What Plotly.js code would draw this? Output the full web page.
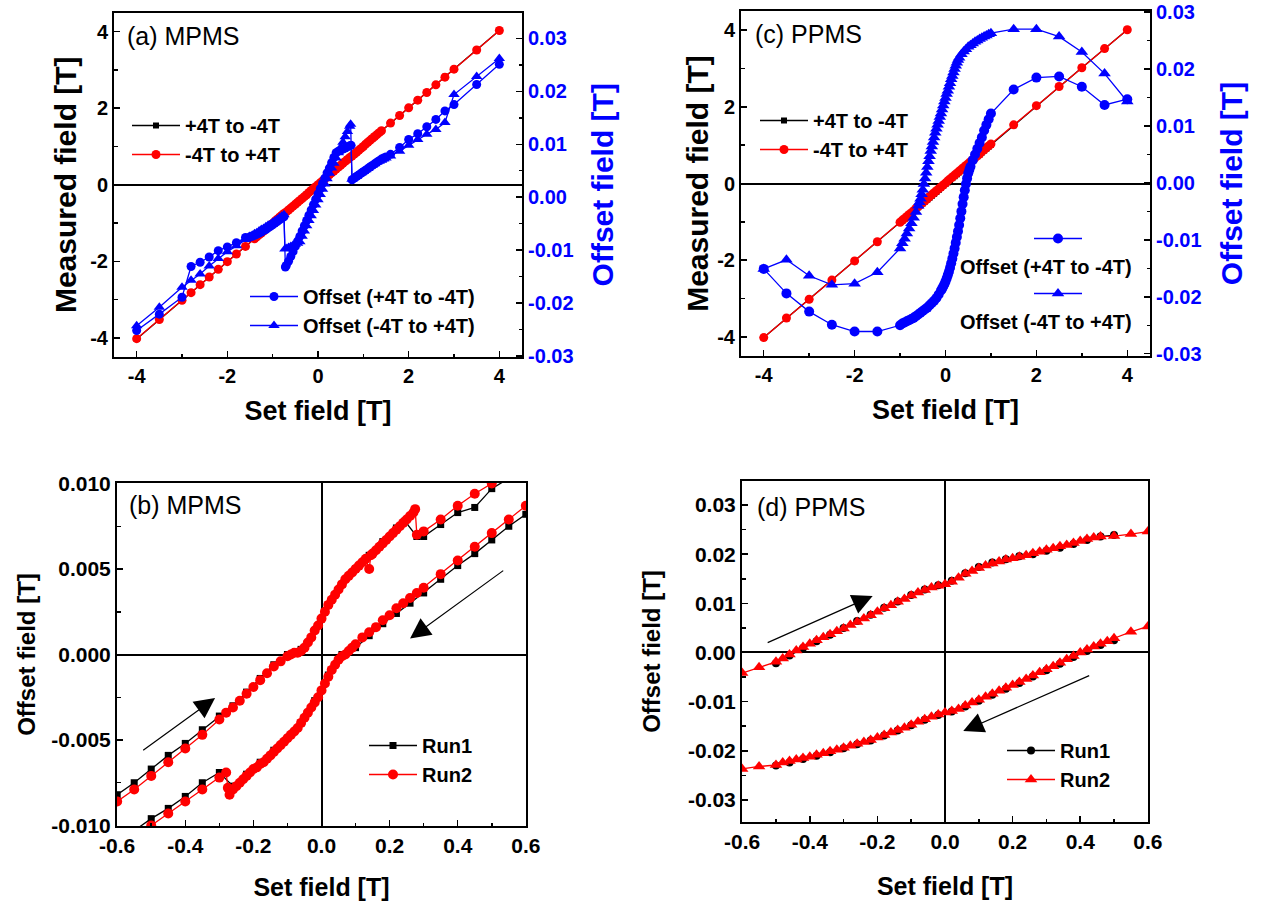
<!DOCTYPE html>
<html><head><meta charset="utf-8">
<script src="https://cdn.plot.ly/plotly-3.0.1.min.js"></script>
<style>html,body{margin:0;padding:0;background:#fff}#chart{width:1263px;height:906px}</style>
</head><body><div id="chart"></div>
<script>
// ---------- Tick labels ----------
var tickFieldVals = [-4,-2,0,2,4];
var tickFieldText = ['-4','-2','0','2','4'];
var tickOffVals = [-0.03,-0.02,-0.01,0,0.01,0.02,0.03];
var tickOffText = ['-0.03','-0.02','-0.01','0.00','0.01','0.02','0.03'];
var tickSmallXVals = [-0.6,-0.4,-0.2,0,0.2,0.4,0.6];
var tickSmallXText = ['-0.6','-0.4','-0.2','0.0','0.2','0.4','0.6'];
var tickBYVals = [-0.01,-0.005,0,0.005,0.01];
var tickBYText = ['-0.010','-0.005','0.000','0.005','0.010'];

// ---------- Panel (a) MPMS ----------
var xA_meas = [-4,-3.5,-3,-2.8,-2.6,-2.4,-2.2,-2,-1.8,-1.6,
 -1.4,-1.35,-1.3,-1.25,-1.2,-1.15,-1.1,-1.05,-1,-0.95,
 -0.9,-0.85,-0.8,-0.75,-0.7,-0.65,-0.6,-0.55,-0.5,-0.45,
 -0.4,-0.35,-0.3,-0.25,-0.2,-0.15,-0.1,-0.05,0,0.05,
 0.1,0.15,0.2,0.25,0.3,0.35,0.4,0.45,0.5,0.55,
 0.6,0.65,0.7,0.75,0.8,0.85,0.9,0.95,1,1.05,
 1.1,1.15,1.2,1.25,1.3,1.35,1.4,
 1.6,1.8,2,2.2,2.4,2.6,2.8,3,3.5,4];
var measA_down = [-4.03,-3.52,-3.02,-2.81,-2.61,-2.41,-2.21,-2.01,-1.81,-1.61,
 -1.41,-1.36,-1.31,-1.26,-1.21,-1.16,-1.11,-1.06,-1.01,-0.95,
 -0.90,-0.85,-0.80,-0.75,-0.71,-0.66,-0.61,-0.56,-0.51,-0.46,
 -0.41,-0.36,-0.31,-0.25,-0.20,-0.15,-0.10,-0.05,0.00,0.05,
 0.10,0.15,0.20,0.26,0.31,0.36,0.41,0.46,0.51,0.56,
 0.61,0.66,0.71,0.75,0.80,0.85,0.90,0.95,1.00,1.06,
 1.11,1.16,1.21,1.26,1.31,1.36,1.41,
 1.61,1.81,2.01,2.21,2.41,2.61,2.82,3.02,3.52,4.03];
var measA_up = [-4.02,-3.52,-3.02,-2.82,-2.61,-2.41,-2.21,-2.01,-1.81,-1.61,
 -1.41,-1.36,-1.31,-1.26,-1.21,-1.16,-1.11,-1.06,-1.01,-0.95,
 -0.90,-0.85,-0.80,-0.75,-0.71,-0.66,-0.61,-0.56,-0.51,-0.46,
 -0.41,-0.36,-0.31,-0.26,-0.20,-0.15,-0.10,-0.05,0.00,0.05,
 0.10,0.15,0.21,0.26,0.31,0.36,0.41,0.46,0.51,0.56,
 0.61,0.66,0.71,0.75,0.80,0.85,0.90,0.95,1.00,1.06,
 1.11,1.16,1.21,1.26,1.31,1.36,1.41,
 1.61,1.81,2.01,2.21,2.41,2.61,2.81,3.02,3.52,4.03];
var xA_offDown = [4,3.5,3,2.8,2.6,2.4,2.2,2,1.8,1.6,
 1.5,1.45,1.4,1.35,1.3,1.25,1.2,1.15,1.1,1.05,
 1,0.95,0.9,0.85,0.8,0.75,
 0.73,0.7,0.65,0.6,0.55,0.5,0.45,0.4,0.35,0.3,
 0.25,0.2,0.15,0.1,0.05,0,-0.05,-0.1,-0.15,-0.2,
 -0.25,-0.3,-0.35,-0.4,-0.45,-0.5,-0.55,-0.6,-0.65,-0.7,-0.72,
 -0.75,-0.8,-0.85,-0.9,-0.95,-1,-1.05,-1.1,-1.15,-1.2,
 -1.25,-1.3,-1.35,-1.4,-1.45,-1.5,-1.6,-1.8,-2,-2.2,
 -2.4,-2.6,-2.8,-3,-3.5,-4];
var offA_down = [0.0251,0.0213,0.0175,0.0163,0.0147,0.0133,0.0120,0.0109,0.0094,0.0081,
 0.0076,0.0074,0.0072,0.0069,0.0066,0.0063,0.0060,0.0057,0.0054,0.0051,
 0.0048,0.0045,0.0042,0.0039,0.0036,0.0033,
 0.0098,0.0097,0.0095,0.0093,0.0091,0.0089,0.0087,0.0084,0.0075,0.0065,
 0.0055,0.0046,0.0036,0.0026,0.0016,0.0006,-0.0004,-0.0014,-0.0024,-0.0034,
 -0.0044,-0.0054,-0.0064,-0.0074,-0.0083,-0.0093,-0.0103,-0.0112,-0.0121,-0.0129,-0.0132,
 -0.0037,-0.0040,-0.0043,-0.0046,-0.0049,-0.0052,-0.0055,-0.0058,-0.0061,-0.0063,
 -0.0066,-0.0068,-0.0070,-0.0072,-0.0074,-0.0075,-0.0076,-0.0086,-0.0094,-0.0101,
 -0.0113,-0.0123,-0.0131,-0.0189,-0.0221,-0.0252];
var xA_offUp = [-4,-3.5,-3,-2.8,-2.6,-2.4,-2.2,-2,-1.8,-1.6,
 -1.5,-1.45,-1.4,-1.35,-1.3,-1.25,-1.2,-1.15,-1.1,-1.05,
 -1,-0.95,-0.9,-0.85,-0.8,-0.75,
 -0.73,-0.7,-0.65,-0.6,-0.55,-0.5,-0.45,-0.4,-0.35,-0.3,
 -0.25,-0.2,-0.15,-0.1,-0.05,0,0.05,0.1,0.15,0.2,
 0.25,0.3,0.35,0.4,0.45,0.5,0.55,0.6,0.65,0.7,0.72,
 0.75,0.8,0.85,0.9,0.95,1,1.05,1.1,1.15,1.2,
 1.25,1.3,1.35,1.4,1.45,1.5,1.6,1.8,2,2.2,
 2.4,2.6,2.8,3,3.5,4];
var offA_up = [-0.0243,-0.0208,-0.0170,-0.0157,-0.0145,-0.0130,-0.0116,-0.0103,-0.0092,-0.0080,
 -0.0074,-0.0072,-0.0069,-0.0067,-0.0064,-0.0061,-0.0059,-0.0056,-0.0053,-0.0051,
 -0.0048,-0.0045,-0.0042,-0.0039,-0.0036,-0.0033,
 -0.0098,-0.0097,-0.0095,-0.0093,-0.0091,-0.0089,-0.0087,-0.0084,-0.0074,-0.0064,
 -0.0054,-0.0044,-0.0035,-0.0025,-0.0015,-0.0005,0.0005,0.0015,0.0025,0.0035,
 0.0045,0.0055,0.0064,0.0074,0.0084,0.0094,0.0104,0.0114,0.0124,0.0134,0.0138,
 0.0034,0.0037,0.0040,0.0043,0.0046,0.0049,0.0052,0.0055,0.0058,0.0061,
 0.0063,0.0066,0.0068,0.0070,0.0072,0.0074,0.0078,0.0087,0.0098,0.0109,
 0.0119,0.0128,0.0141,0.0194,0.0228,0.0262];

// ---------- Panel (c) PPMS ----------
var xC_meas = [-4,-3.5,-3,-2.5,-2,-1.5,
 -1,-0.95,-0.9,-0.85,-0.8,-0.75,-0.7,-0.65,-0.6,-0.55,
 -0.5,-0.45,-0.4,-0.35,-0.3,-0.25,-0.2,-0.15,-0.1,-0.05,
 0,0.05,0.1,0.15,0.2,0.25,0.3,0.35,0.4,0.45,
 0.5,0.55,0.6,0.65,0.7,0.75,0.8,0.85,0.9,0.95,
 1,1.5,2,2.5,3,3.5,4];
var measC_down = [-4.02,-3.52,-3.02,-2.52,-2.03,-1.53,
 -1.02,-0.97,-0.92,-0.87,-0.82,-0.77,-0.72,-0.67,-0.62,-0.57,
 -0.52,-0.47,-0.42,-0.37,-0.32,-0.27,-0.22,-0.17,-0.11,-0.06,
 -0.01,0.03,0.09,0.14,0.19,0.24,0.29,0.35,0.40,0.45,
 0.50,0.55,0.60,0.66,0.71,0.76,0.81,0.86,0.91,0.96,
 1.01,1.52,2.02,2.52,3.02,3.51,4.01];
var measC_up = [-4.02,-3.51,-3.02,-2.52,-2.02,-1.52,
 -1.01,-0.96,-0.91,-0.86,-0.81,-0.76,-0.71,-0.65,-0.60,-0.55,
 -0.50,-0.45,-0.40,-0.34,-0.29,-0.24,-0.19,-0.14,-0.09,-0.04,
 0.01,0.07,0.12,0.17,0.22,0.27,0.32,0.37,0.42,0.47,
 0.52,0.57,0.62,0.67,0.72,0.77,0.83,0.88,0.93,0.98,
 1.03,1.53,2.03,2.53,3.02,3.52,4.01];
var xC_offDown = [4,3.5,3,2.5,2,1.5,
 1,0.95,0.9,0.85,0.8,0.75,0.7,0.65,0.6,
 0.55,0.525,0.5,0.475,0.45,0.425,0.4,0.375,0.35,0.325,
 0.3,0.275,0.25,0.225,0.2,0.175,0.15,0.125,0.1,0.075,
 0.05,0.025,0,-0.025,-0.05,-0.075,-0.1,
 -0.15,-0.2,-0.25,-0.3,-0.35,-0.4,-0.45,-0.5,-0.55,-0.6,-0.65,-0.7,-0.75,-0.8,-0.85,-0.9,-0.95,-1,
 -1.5,-2,-2.5,-3,-3.5,-4];
var offC_down = [0.0147,0.0137,0.0169,0.0187,0.0185,0.0164,
 0.0122,0.0112,0.0102,0.0092,0.0080,0.0070,0.0060,0.0050,0.0040,
 0.0029,0.0023,0.0017,0.0008,-0.0002,-0.0013,-0.0025,-0.0037,-0.0050,-0.0062,
 -0.0074,-0.0085,-0.0095,-0.0105,-0.0115,-0.0124,-0.0133,-0.0141,-0.0149,-0.0156,
 -0.0162,-0.0168,-0.0173,-0.0178,-0.0182,-0.0186,-0.0189,
 -0.0196,-0.0202,-0.0207,-0.0211,-0.0215,-0.0219,-0.0222,-0.0225,-0.0228,-0.0231,-0.0234,-0.0237,-0.0239,-0.0241,-0.0243,-0.0245,-0.0247,-0.0250,
 -0.0261,-0.0261,-0.0249,-0.0226,-0.0194,-0.0151];
var xC_offUp = [-4,-3.5,-3,-2.5,-2,-1.5,
 -1,-0.95,-0.9,-0.85,-0.8,-0.75,-0.7,-0.65,
 -0.6,-0.575,-0.55,-0.525,-0.5,-0.475,-0.45,-0.425,-0.4,-0.375,
 -0.35,-0.325,-0.3,-0.275,-0.25,-0.225,-0.2,-0.175,-0.15,-0.125,
 -0.1,-0.075,-0.05,-0.025,0,0.025,0.05,0.075,0.1,0.125,
 0.15,0.175,0.2,0.225,0.25,0.275,0.3,
 0.35,0.4,0.45,0.5,0.55,0.6,0.65,0.7,0.75,0.8,0.85,0.9,0.95,1,
 1.5,2,2.5,3,3.5,4];
var offC_up = [-0.0151,-0.0135,-0.0163,-0.0179,-0.0177,-0.0157,
 -0.0115,-0.0106,-0.0098,-0.0089,-0.0080,-0.0071,-0.0061,-0.0051,
 -0.0040,-0.0034,-0.0028,-0.0020,-0.0012,-0.0002,0.0008,0.0018,0.0028,0.0038,
 0.0047,0.0056,0.0064,0.0072,0.0080,0.0088,0.0095,0.0102,0.0109,0.0116,
 0.0122,0.0129,0.0136,0.0143,0.0149,0.0156,0.0162,0.0169,0.0175,0.0182,
 0.0188,0.0194,0.0200,0.0206,0.0211,0.0216,0.0220,
 0.0226,0.0231,0.0235,0.0239,0.0242,0.0245,0.0248,0.0250,0.0253,0.0255,0.0257,0.0259,0.0261,0.0263,
 0.0270,0.0270,0.0257,0.0230,0.0192,0.0143];

// ---------- Panel (b) MPMS minor loops ----------
var xB1_dec = [0.6,0.55,0.5,0.45,0.4,0.35,0.3,
 0.26,0.22,0.18,0.14,0.1,0.06,0.02,-0.02,-0.06,-0.1,-0.14,-0.18,-0.22,-0.26,
 -0.3,-0.35,-0.4,-0.45,-0.5,-0.55];
var yB1_dec = [0.0082,0.0075,0.0067,0.0059,0.0052,0.0044,0.0036,
 0.0030,0.0024,0.0018,0.0011,0.0004,0.0000,-0.0012,-0.0027,-0.0040,-0.0049,-0.0056,-0.0063,-0.0070,-0.0077,
 -0.0069,-0.0075,-0.0083,-0.0090,-0.0096,-0.0103];
var xB1_inc = [-0.6,-0.55,-0.5,-0.45,-0.4,-0.35,-0.3,
 -0.26,-0.22,-0.18,-0.14,-0.1,-0.06,-0.02,0.02,0.06,0.1,0.14,0.18,0.22,
 0.245,0.28,
 0.3,0.35,0.4,0.45,0.5,0.55];
var yB1_inc = [-0.0082,-0.0075,-0.0067,-0.0059,-0.0052,-0.0044,-0.0036,
 -0.0030,-0.0022,-0.0014,-0.0006,0.0000,0.0003,0.0014,0.0029,0.0041,0.0050,0.0058,0.0066,0.0074,
 0.0078,0.0069,
 0.0069,0.0076,0.0083,0.0086,0.0097,0.0103];
var xB2_dec = [0.6,0.55,0.5,0.45,0.4,0.35,0.3,
 0.28,0.26,0.24,0.22,0.2,0.18,0.16,0.14,0.12,
 0.1,0.09,0.08,0.07,0.06,0.05,0.04,0.03,0.02,0.01,
 0,-0.01,-0.02,-0.03,-0.04,-0.05,-0.06,-0.07,-0.08,-0.09,
 -0.1,-0.11,-0.12,-0.13,-0.14,-0.15,-0.16,-0.17,-0.18,-0.19,
 -0.2,-0.21,-0.22,-0.23,-0.24,-0.25,-0.26,-0.27,-0.275,-0.28,
 -0.3,-0.35,-0.4,-0.45,-0.5,-0.55];
var yB2_dec = [0.0087,0.0079,0.0071,0.0063,0.0055,0.0047,0.0039,
 0.0036,0.0033,0.0030,0.0027,0.0023,0.0020,0.0016,0.0013,0.0010,
 0.0006,0.0004,0.0002,0.0000,-0.0001,-0.0003,-0.0006,-0.0009,-0.0013,-0.0017,
 -0.0021,-0.0025,-0.0028,-0.0031,-0.0034,-0.0037,-0.0040,-0.0043,-0.0045,-0.0047,
 -0.0049,-0.0051,-0.0053,-0.0055,-0.0057,-0.0059,-0.0061,-0.0063,-0.0064,-0.0066,
 -0.0067,-0.0069,-0.0071,-0.0073,-0.0075,-0.0077,-0.0079,-0.0082,-0.0078,-0.0069,
 -0.0072,-0.0079,-0.0086,-0.0093,-0.0100,-0.0107];
var xB2_inc = [-0.6,-0.55,-0.5,-0.45,-0.4,-0.35,-0.3,
 -0.28,-0.26,-0.24,-0.22,-0.2,-0.18,-0.16,-0.14,-0.12,
 -0.1,-0.09,-0.08,-0.07,-0.06,-0.05,-0.04,-0.03,-0.02,-0.01,
 0,0.01,0.02,0.03,0.04,0.05,0.06,0.07,0.08,0.09,
 0.1,0.11,0.12,0.13,0.14,0.145,0.15,0.16,0.17,0.18,
 0.19,0.2,0.21,0.22,0.23,0.24,0.25,0.26,0.27,0.275,
 0.28,0.3,0.35,0.4,0.45,0.5,0.55];
var yB2_inc = [-0.0086,-0.0079,-0.0071,-0.0063,-0.0055,-0.0047,-0.0038,
 -0.0034,-0.0031,-0.0027,-0.0023,-0.0019,-0.0015,-0.0011,-0.0007,-0.0004,
 -0.0001,0.0000,0.0001,0.0001,0.0002,0.0004,0.0007,0.0010,0.0014,0.0017,
 0.0021,0.0025,0.0029,0.0032,0.0035,0.0038,0.0041,0.0044,0.0046,0.0048,
 0.0050,0.0052,0.0054,0.0056,0.0050,0.0058,0.0059,0.0061,0.0063,0.0065,
 0.0067,0.0069,0.0071,0.0073,0.0075,0.0077,0.0079,0.0081,0.0083,0.0085,
 0.0070,0.0072,0.0079,0.0087,0.0094,0.0100,0.0107];

// ---------- Panel (d) PPMS minor loops ----------
var xD1_dec = [0.5,0.46,0.42,0.38,0.34,0.3,0.26,0.22,0.18,0.14,0.1,0.06,0.02,
 -0.02,-0.06,-0.1,-0.14,-0.18,-0.22,-0.26,-0.3,-0.34,-0.38,-0.42,-0.46,-0.5];
var yD1_dec = [0.0025,0.0015,0.0003,-0.0009,-0.0023,-0.0036,-0.0049,-0.0062,-0.0074,-0.0086,-0.0098,-0.0110,-0.0120,
 -0.0127,-0.0137,-0.0148,-0.0159,-0.0169,-0.0179,-0.0187,-0.0195,-0.0203,-0.0210,-0.0217,-0.0224,-0.0230];
var xD1_inc = [-0.5,-0.46,-0.42,-0.38,-0.34,-0.3,-0.26,-0.22,-0.18,-0.14,-0.1,-0.06,-0.02,
 0.02,0.06,0.1,0.14,0.18,0.22,0.26,0.3,0.34,0.38,0.42,0.46,0.5];
var yD1_inc = [-0.0022,-0.0006,0.0009,0.0023,0.0036,0.0050,0.0064,0.0077,0.0091,0.0104,0.0117,0.0128,0.0137,
 0.0146,0.0161,0.0174,0.0183,0.0190,0.0196,0.0200,0.0207,0.0213,0.0221,0.0229,0.0236,0.0239];
var xD2_dec = [0.6,0.55,0.5,
 0.48,0.46,0.44,0.42,0.4,0.38,0.36,0.34,0.32,0.3,
 0.28,0.26,0.24,0.22,0.2,0.18,0.16,0.14,0.12,0.1,
 0.08,0.06,0.04,0.02,0,-0.02,-0.04,-0.06,-0.08,-0.1,
 -0.12,-0.14,-0.16,-0.18,-0.2,-0.22,-0.24,-0.26,-0.28,-0.3,
 -0.32,-0.34,-0.36,-0.38,-0.4,-0.42,-0.44,-0.46,-0.48,
 -0.5,-0.55,-0.6];
var yD2_dec = [0.0053,0.0042,0.0029,
 0.0023,0.0018,0.0012,0.0006,0.0000,-0.0007,-0.0014,-0.0021,-0.0028,-0.0034,
 -0.0040,-0.0047,-0.0054,-0.0060,-0.0066,-0.0072,-0.0078,-0.0084,-0.0090,-0.0096,
 -0.0102,-0.0108,-0.0115,-0.0119,-0.0122,-0.0126,-0.0131,-0.0136,-0.0141,-0.0147,
 -0.0153,-0.0158,-0.0163,-0.0168,-0.0173,-0.0178,-0.0182,-0.0186,-0.0190,-0.0194,
 -0.0198,-0.0201,-0.0205,-0.0208,-0.0212,-0.0215,-0.0218,-0.0221,-0.0224,
 -0.0229,-0.0232,-0.0237];
var xD2_inc = [-0.6,-0.55,-0.5,
 -0.48,-0.46,-0.44,-0.42,-0.4,-0.38,-0.36,-0.34,-0.32,-0.3,
 -0.28,-0.26,-0.24,-0.22,-0.2,-0.18,-0.16,-0.14,-0.12,-0.1,
 -0.08,-0.06,-0.04,-0.02,0,0.02,0.04,0.06,0.08,0.1,
 0.12,0.14,0.16,0.18,0.2,0.22,0.24,0.26,0.28,0.3,
 0.32,0.34,0.36,0.38,0.4,0.42,0.44,0.46,
 0.5,0.55,0.6];
var yD2_inc = [-0.0042,-0.0030,-0.0019,
 -0.0012,-0.0004,0.0004,0.0011,0.0018,0.0025,0.0031,0.0037,0.0043,0.0049,
 0.0056,0.0062,0.0069,0.0076,0.0083,0.0090,0.0096,0.0103,0.0109,0.0116,
 0.0122,0.0127,0.0132,0.0136,0.0139,0.0144,0.0152,0.0160,0.0166,0.0172,
 0.0177,0.0181,0.0185,0.0189,0.0192,0.0195,0.0198,0.0202,0.0205,0.0209,
 0.0212,0.0216,0.0219,0.0223,0.0227,0.0231,0.0234,0.0236,
 0.0237,0.0241,0.0246];

// ---------- Styling ----------
var FONT = 'Liberation Sans, Arial, Helvetica, sans-serif';
var W = 1263, H = 906;
var BLUE = '#0000FF', RED = '#FF0000', BLACK = '#000000';
function dx(a, b) { return [a / W, b / W]; }
function dy(top, bot) { return [1 - bot / H, 1 - top / H]; }
function px(v) { return v / W; }
function py(v) { return 1 - v / H; }
function loop(a, b) { return a.concat([null], b); }

function minorT(d) { return { ticks: 'inside', ticklen: 3.5, tickwidth: 1.5, tickcolor: BLACK, tickmode: 'linear', tick0: 0, dtick: d }; }
function axis(o) {
  var base = {
    showgrid: false, zeroline: false, showline: true, linecolor: BLACK, linewidth: 2,
    mirror: true, ticks: 'inside', ticklen: 6, tickwidth: 1.5, tickcolor: BLACK,
    tickmode: 'array',
    tickfont: { family: FONT, size: 20, color: BLACK, weight: 'bold' }
  };
  for (var k in o) base[k] = o[k];
  return base;
}
function ttl(text, size, standoff, color) {
  return { text: text, standoff: standoff, font: { family: FONT, size: size, color: color || BLACK, weight: 'bold' } };
}
function sc(x, y, xa, ya, name, color, symbol, size, legend) {
  return {
    type: 'scatter', mode: 'lines+markers', x: x, y: y, xaxis: xa, yaxis: ya, name: name,
    line: { color: color, width: 1.3 }, marker: { color: color, symbol: symbol, size: size },
    legend: legend, showlegend: true, connectgaps: false
  };
}

var data = [
  sc(xA_meas, measA_down, 'x', 'y', '+4T to -4T', BLACK, 'square', 6, 'legend'),
  sc(xA_meas, measA_up, 'x', 'y', '-4T to +4T', RED, 'circle', 9, 'legend'),
  sc(xA_offDown, offA_down, 'x', 'y2', 'Offset (+4T to -4T)', BLUE, 'circle', 9, 'legend2'),
  sc(xA_offUp, offA_up, 'x', 'y2', 'Offset (-4T to +4T)', BLUE, 'triangle-up', 10, 'legend2'),

  sc(xC_meas, measC_down, 'x2', 'y3', '+4T to -4T', BLACK, 'square', 6, 'legend3'),
  sc(xC_meas, measC_up, 'x2', 'y3', '-4T to +4T', RED, 'circle', 9, 'legend3'),
  sc(xC_offDown, offC_down, 'x2', 'y4', '', BLUE, 'circle', 10, 'legend4'),
  sc(xC_offUp, offC_up, 'x2', 'y4', '', BLUE, 'triangle-up', 11, 'legend5'),

  sc(loop(xB1_dec, xB1_inc), loop(yB1_dec, yB1_inc), 'x3', 'y5', 'Run1', BLACK, 'square', 7, 'legend6'),
  sc(loop(xB2_dec, xB2_inc), loop(yB2_dec, yB2_inc), 'x3', 'y5', 'Run2', RED, 'circle', 10, 'legend6'),

  sc(loop(xD1_dec, xD1_inc), loop(yD1_dec, yD1_inc), 'x4', 'y6', 'Run1', BLACK, 'circle', 8, 'legend7'),
  sc(loop(xD2_dec, xD2_inc), loop(yD2_dec, yD2_inc), 'x4', 'y6', 'Run2', RED, 'triangle-up', 11, 'legend7')
];

function leg(left, top) {
  return {
    x: px(left), y: py(top), xanchor: 'left', yanchor: 'top', bgcolor: 'rgba(0,0,0,0)',
    borderwidth: 0, itemwidth: 48, traceorder: 'normal', itemsizing: 'trace',
    font: { family: FONT, size: 20, color: BLACK, weight: 'bold' }
  };
}
var labFont = { family: FONT, size: 25, color: BLACK };
var txtFont = { family: FONT, size: 20, color: BLACK, weight: 'bold' };
function arrow(xr, yr, hx, hy, tx, ty) {
  return { xref: xr, yref: yr, axref: xr, ayref: yr, x: hx, y: hy, ax: tx, ay: ty, text: '',
    showarrow: true, arrowhead: 2, arrowsize: 3.4, arrowwidth: 1.2, arrowcolor: BLACK };
}
var smallTick = { family: FONT, size: 21, color: BLACK, weight: 'bold' };
var blueTick = { family: FONT, size: 20, color: BLUE, weight: 'bold' };

var layout = {
  width: W, height: H, margin: { l: 0, r: 0, t: 0, b: 0 },
  paper_bgcolor: '#fff', plot_bgcolor: '#fff', showlegend: true,
  // panel (a)
  xaxis: axis({ domain: dx(114, 522), anchor: 'y', range: [-4.5, 4.5], tickvals: tickFieldVals, ticktext: tickFieldText,
    minor: minorT(1), title: ttl('Set field [T]', 27, 15) }),
  yaxis: axis({ domain: dy(12.5, 357), anchor: 'x', range: [-4.5, 4.5], tickvals: tickFieldVals, ticktext: tickFieldText,
    zeroline: true, zerolinecolor: BLACK, zerolinewidth: 2,
    minor: minorT(1), title: ttl('Measured field [T]', 30, 5) }),
  yaxis2: axis({ overlaying: 'y', side: 'right', anchor: 'x', range: [-0.0302, 0.0349], mirror: false,
    tickvals: tickOffVals, ticktext: tickOffText, tickfont: blueTick,
    minor: minorT(0.005), title: ttl('Offset field [T]', 30, 19, BLUE) }),
  // panel (c)
  xaxis2: axis({ domain: dx(741, 1150), anchor: 'y3', range: [-4.5, 4.5], tickvals: tickFieldVals, ticktext: tickFieldText,
    minor: minorT(1), title: ttl('Set field [T]', 27, 15) }),
  yaxis3: axis({ domain: dy(11, 356), anchor: 'x2', range: [-4.5, 4.5], tickvals: tickFieldVals, ticktext: tickFieldText,
    zeroline: true, zerolinecolor: BLACK, zerolinewidth: 2,
    minor: minorT(1), title: ttl('Measured field [T]', 30, 0) }),
  yaxis4: axis({ overlaying: 'y3', side: 'right', anchor: 'x2', range: [-0.0304, 0.0302], mirror: false,
    tickvals: tickOffVals, ticktext: tickOffText, tickfont: blueTick,
    minor: minorT(0.005), title: ttl('Offset field [T]', 30, 20, BLUE) }),
  // panel (b)
  xaxis3: axis({ domain: dx(117, 526), anchor: 'y5', range: [-0.6005, 0.6005], tickvals: tickSmallXVals, ticktext: tickSmallXText,
    zeroline: true, zerolinecolor: BLACK, zerolinewidth: 2, tickfont: smallTick,
    minor: minorT(0.1), title: ttl('Set field [T]', 25, 22) }),
  yaxis5: axis({ domain: dy(483, 826), anchor: 'x3', range: [-0.01003, 0.01003], tickvals: tickBYVals, ticktext: tickBYText,
    zeroline: true, zerolinecolor: BLACK, zerolinewidth: 2, tickfont: smallTick,
    minor: minorT(0.0025), title: ttl('Offset field [T]', 24, 9) }),
  // panel (d)
  xaxis4: axis({ domain: dx(742, 1148), anchor: 'y6', range: [-0.6005, 0.6005], tickvals: tickSmallXVals, ticktext: tickSmallXText,
    zeroline: true, zerolinecolor: BLACK, zerolinewidth: 2, tickfont: smallTick,
    minor: minorT(0.1), title: ttl('Set field [T]', 25, 25) }),
  yaxis6: axis({ domain: dy(481, 822), anchor: 'x4', range: [-0.0345, 0.0349], tickvals: tickOffVals, ticktext: tickOffText,
    zeroline: true, zerolinecolor: BLACK, zerolinewidth: 2, tickfont: smallTick,
    minor: minorT(0.005), title: ttl('Offset field [T]', 24, 21) }),

  legend: leg(127, 106),
  legend2: leg(245, 277),
  legend3: leg(755, 101),
  legend4: leg(1029, 219),
  legend5: leg(1029, 274),
  legend6: leg(364, 726),
  legend7: leg(1002, 731),

  annotations: [
    { xref: 'paper', yref: 'paper', x: px(125), y: py(36), xanchor: 'left', yanchor: 'middle', showarrow: false, text: '(a) MPMS', font: labFont },
    { xref: 'paper', yref: 'paper', x: px(753), y: py(34), xanchor: 'left', yanchor: 'middle', showarrow: false, text: '(c) PPMS', font: labFont },
    { xref: 'paper', yref: 'paper', x: px(127), y: py(505), xanchor: 'left', yanchor: 'middle', showarrow: false, text: '(b) MPMS', font: labFont },
    { xref: 'paper', yref: 'paper', x: px(755), y: py(507), xanchor: 'left', yanchor: 'middle', showarrow: false, text: '(d) PPMS', font: labFont },
    { xref: 'paper', yref: 'paper', x: px(1046), y: py(267), xanchor: 'center', yanchor: 'middle', showarrow: false, text: 'Offset (+4T to -4T)', font: txtFont },
    { xref: 'paper', yref: 'paper', x: px(1046), y: py(322), xanchor: 'center', yanchor: 'middle', showarrow: false, text: 'Offset (-4T to +4T)', font: txtFont },
    arrow('x3', 'y5', -0.3125, -0.00255, -0.528, -0.00567),
    arrow('x3', 'y5', 0.26, 0.00094, 0.538, 0.00497),
    arrow('x4', 'y6', -0.214, 0.0115, -0.529, 0.00187),
    arrow('x4', 'y6', 0.054, -0.016, 0.431, -0.00458)
  ]
};

Plotly.newPlot('chart', data, layout, { staticPlot: true, displayModeBar: false });
</script></body></html>
